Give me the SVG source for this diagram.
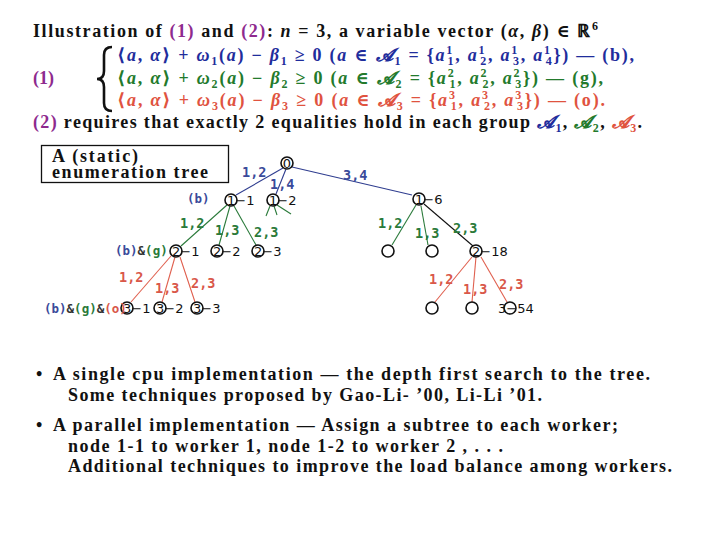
<svg xmlns="http://www.w3.org/2000/svg" width="720" height="540" viewBox="0 0 720 540">
<style>
.t{font-family:"Liberation Serif","DejaVu Serif",serif;font-weight:bold;font-size:18px;fill:#111}
.i{font-style:italic}
.sub{font-size:12px;baseline-shift:-4px}
.sup{font-size:12px;baseline-shift:7px}
.pu{fill:#8e2a8e}.bl{fill:#1f2d9c}.gr{fill:#237a2c}.rd{fill:#e0533f}
.lab{font-family:"DejaVu Sans Mono",monospace;font-weight:bold;font-size:13.5px}
.lb{fill:#3a4a9a}.lg{fill:#2a7a3a}.lr{fill:#d9584a}
.nl{font-family:"DejaVu Sans",sans-serif;font-size:13px;fill:#111}
.nd{fill:none;stroke:#111;stroke-width:1.6}
.eb{stroke:#2f3d8f;stroke-width:1.1;fill:none}
.eg{stroke:#2a7a3a;stroke-width:1.1;fill:none}
.er{stroke:#e0604f;stroke-width:1.1;fill:none}
.ek{stroke:#111;stroke-width:1.1;fill:none}
.sm{font-family:"DejaVu Sans Mono",monospace;font-weight:bold;font-size:12.5px}
</style>
<rect width="720" height="540" fill="#fff"/>

<!-- header -->
<text class="t" x="33" y="37" textLength="565" lengthAdjust="spacing">Illustration of <tspan class="pu">(1)</tspan> and <tspan class="pu">(2)</tspan>: <tspan class="i">n</tspan> = 3, a variable vector (<tspan class="i">α</tspan>, <tspan class="i">β</tspan>) ∈ ℝ<tspan class="sup">6</tspan></text>

<text class="t pu" x="33" y="84">(1)</text>
<path d="M112 47 Q104 47 104 55 L104 71 Q104 79 97 79 Q104 79 104 87 L104 103 Q104 111 112 111" fill="none" stroke="#111" stroke-width="2.6"/>

<text class="t bl" x="117" y="61" textLength="517" lengthAdjust="spacing">⟨<tspan class="i">a</tspan>, <tspan class="i">α</tspan>⟩ + <tspan class="i">ω</tspan><tspan class="sub">1</tspan>(<tspan class="i">a</tspan>) − <tspan class="i">β</tspan><tspan class="sub">1</tspan> ≥ 0  (<tspan class="i">a</tspan> ∈ <tspan class="i">𝓐</tspan><tspan class="sub">1</tspan> = {<tspan class="i">a</tspan><tspan class="sup">1</tspan><tspan class="sub" dx="-6">1</tspan>, <tspan class="i">a</tspan><tspan class="sup">1</tspan><tspan class="sub" dx="-6">2</tspan>, <tspan class="i">a</tspan><tspan class="sup">1</tspan><tspan class="sub" dx="-6">3</tspan>, <tspan class="i">a</tspan><tspan class="sup">1</tspan><tspan class="sub" dx="-6">4</tspan>}) — (b),</text>

<text class="t gr" x="117" y="84" textLength="486" lengthAdjust="spacing">⟨<tspan class="i">a</tspan>, <tspan class="i">α</tspan>⟩ + <tspan class="i">ω</tspan><tspan class="sub">2</tspan>(<tspan class="i">a</tspan>) − <tspan class="i">β</tspan><tspan class="sub">2</tspan> ≥ 0  (<tspan class="i">a</tspan> ∈ <tspan class="i">𝓐</tspan><tspan class="sub">2</tspan> = {<tspan class="i">a</tspan><tspan class="sup">2</tspan><tspan class="sub" dx="-6">1</tspan>, <tspan class="i">a</tspan><tspan class="sup">2</tspan><tspan class="sub" dx="-6">2</tspan>, <tspan class="i">a</tspan><tspan class="sup">2</tspan><tspan class="sub" dx="-6">3</tspan>}) — (g),</text>

<text class="t rd" x="117" y="106" textLength="488" lengthAdjust="spacing">⟨<tspan class="i">a</tspan>, <tspan class="i">α</tspan>⟩ + <tspan class="i">ω</tspan><tspan class="sub">3</tspan>(<tspan class="i">a</tspan>) − <tspan class="i">β</tspan><tspan class="sub">3</tspan> ≥ 0  (<tspan class="i">a</tspan> ∈ <tspan class="i">𝓐</tspan><tspan class="sub">3</tspan> = {<tspan class="i">a</tspan><tspan class="sup">3</tspan><tspan class="sub" dx="-6">1</tspan>, <tspan class="i">a</tspan><tspan class="sup">3</tspan><tspan class="sub" dx="-6">2</tspan>, <tspan class="i">a</tspan><tspan class="sup">3</tspan><tspan class="sub" dx="-6">3</tspan>}) — (o).</text>

<text class="t" x="33" y="128" textLength="609" lengthAdjust="spacing"><tspan class="pu">(2)</tspan> requires that exactly 2 equalities hold in each group <tspan class="bl i">𝓐</tspan><tspan class="bl sub">1</tspan>, <tspan class="gr i">𝓐</tspan><tspan class="gr sub">2</tspan>, <tspan class="rd i">𝓐</tspan><tspan class="rd sub">3</tspan>.</text>

<!-- title box -->
<g id="title-box">
<rect x="41.5" y="145.5" width="187" height="37" fill="none" stroke="#111" stroke-width="1.3"/>
<text class="t" x="52" y="162" font-size="15" textLength="86" lengthAdjust="spacing">A (static)</text>
<text class="t" x="52" y="177.5" font-size="15" textLength="156" lengthAdjust="spacing">enumeration tree</text>
</g>

<!-- connectors -->
<g id="connectors">
<line class="eb" x1="283" y1="168" x2="236" y2="195"/>
<line class="eb" x1="286" y1="169" x2="276" y2="194"/>
<line class="eb" x1="292" y1="167" x2="412" y2="195"/>
<line class="eg" x1="227" y1="205" x2="181" y2="246"/>
<line class="eg" x1="230" y1="206" x2="219" y2="245"/>
<line class="eg" x1="234" y1="206" x2="256" y2="245"/>
<line class="eg" x1="270" y1="206" x2="266" y2="216"/>
<line class="eg" x1="274" y1="206" x2="277" y2="215"/>
<line class="eg" x1="277" y1="205" x2="291" y2="214"/>
<line class="eg" x1="416" y1="205" x2="392" y2="245"/>
<line class="eg" x1="421" y1="206" x2="428" y2="245"/>
<line class="ek" x1="424" y1="204" x2="473" y2="246"/>
<line class="er" x1="171" y1="256" x2="131" y2="302"/>
<line class="er" x1="175" y1="257" x2="162" y2="302"/>
<line class="er" x1="180" y1="257" x2="195" y2="302"/>
<line class="er" x1="472" y1="257" x2="435" y2="302"/>
<line class="er" x1="476" y1="257" x2="472" y2="302"/>
<line class="er" x1="481" y1="257" x2="507" y2="302"/>
</g>

<!-- edge labels -->
<g id="edge-labels">
<text class="lab lb" x="242" y="177">1,2</text>
<text class="lab lb" x="270" y="189">1,4</text>
<text class="lab lb" x="343" y="180">3,4</text>
<text class="lab lg" x="180" y="228">1,2</text>
<text class="lab lg" x="215" y="235">1,3</text>
<text class="lab lg" x="254" y="237">2,3</text>
<text class="lab lg" x="378" y="228">1,2</text>
<text class="lab lg" x="415" y="238">1,3</text>
<text class="lab lg" x="453" y="233">2,3</text>
<text class="lab lr" x="119" y="282">1,2</text>
<text class="lab lr" x="155" y="293">1,3</text>
<text class="lab lr" x="191" y="288">2,3</text>
<text class="lab lr" x="429" y="284">1,2</text>
<text class="lab lr" x="463" y="294">1,3</text>
<text class="lab lr" x="499" y="289">2,3</text>
</g>

<!-- nodes -->
<g id="n0"><circle class="nd" cx="287" cy="163" r="6"/><text class="nl" x="287" y="167.5" text-anchor="middle" font-size="12">0</text></g>
<g id="n1-1"><circle class="nd" cx="231" cy="200" r="6"/><text class="nl" x="227" y="205">1−1</text></g>
<g id="n1-2"><circle class="nd" cx="273" cy="200" r="6"/><text class="nl" x="269" y="205">1−2</text></g>
<g id="n1-6"><circle class="nd" cx="419" cy="199" r="6"/><text class="nl" x="415" y="204">1−6</text></g>
<g id="n2-1"><circle class="nd" cx="176" cy="251" r="6"/><text class="nl" x="172" y="256">2−1</text></g>
<g id="n2-2"><circle class="nd" cx="217" cy="251" r="6"/><text class="nl" x="213" y="256">2−2</text></g>
<g id="n2-3"><circle class="nd" cx="258" cy="251" r="6"/><text class="nl" x="254" y="256">2−3</text></g>
<g id="n2-a"><circle class="nd" cx="388" cy="251" r="6"/></g>
<g id="n2-b"><circle class="nd" cx="432" cy="251" r="6"/></g>
<g id="n2-18"><circle class="nd" cx="476" cy="251" r="6"/><text class="nl" x="472" y="256">2−18</text></g>
<g id="n3-1"><circle class="nd" cx="127" cy="308" r="6"/><text class="nl" x="123" y="313">3−1</text></g>
<g id="n3-2"><circle class="nd" cx="160" cy="308" r="6"/><text class="nl" x="156" y="313">3−2</text></g>
<g id="n3-3"><circle class="nd" cx="197" cy="308" r="6"/><text class="nl" x="193" y="313">3−3</text></g>
<g id="n3-a"><circle class="nd" cx="432" cy="308" r="6"/></g>
<g id="n3-b"><circle class="nd" cx="472" cy="308" r="6"/></g>
<g id="n3-54"><circle class="nd" cx="510" cy="308" r="6"/><text class="nl" x="498" y="313">3−54</text></g>

<!-- group annotations -->
<g id="annotations">
<text class="sm" x="187" y="203"><tspan class="lb">(b)</tspan></text>
<text class="sm" x="115" y="255"><tspan class="lb">(b)</tspan><tspan fill="#333">&amp;</tspan><tspan class="lg">(g)</tspan></text>
<text class="sm" x="44" y="313" font-size="11.5"><tspan class="lb">(b)</tspan><tspan fill="#333">&amp;</tspan><tspan class="lg">(g)</tspan><tspan fill="#333">&amp;</tspan><tspan class="lr">(o)</tspan></text>
</g>

<!-- bullets -->
<g id="bullets">
<text class="t" x="36" y="380">•</text>
<text class="t" x="53" y="380" textLength="597" lengthAdjust="spacing">A single cpu implementation — the depth first search to the tree.</text>
<text class="t" x="68" y="401" textLength="474" lengthAdjust="spacing">Some techniques proposed by Gao-Li- ’00, Li-Li ’01.</text>
<text class="t" x="36" y="431">•</text>
<text class="t" x="53" y="431" textLength="565" lengthAdjust="spacing">A parallel implementation — Assign a subtree to each worker;</text>
<text class="t" x="68" y="452" textLength="435" lengthAdjust="spacing">node 1-1 to worker 1, node 1-2 to worker 2 , . . .</text>
<text class="t" x="68" y="472" textLength="604" lengthAdjust="spacing">Additional techniques to improve the load balance among workers.</text>
</g>
</svg>
